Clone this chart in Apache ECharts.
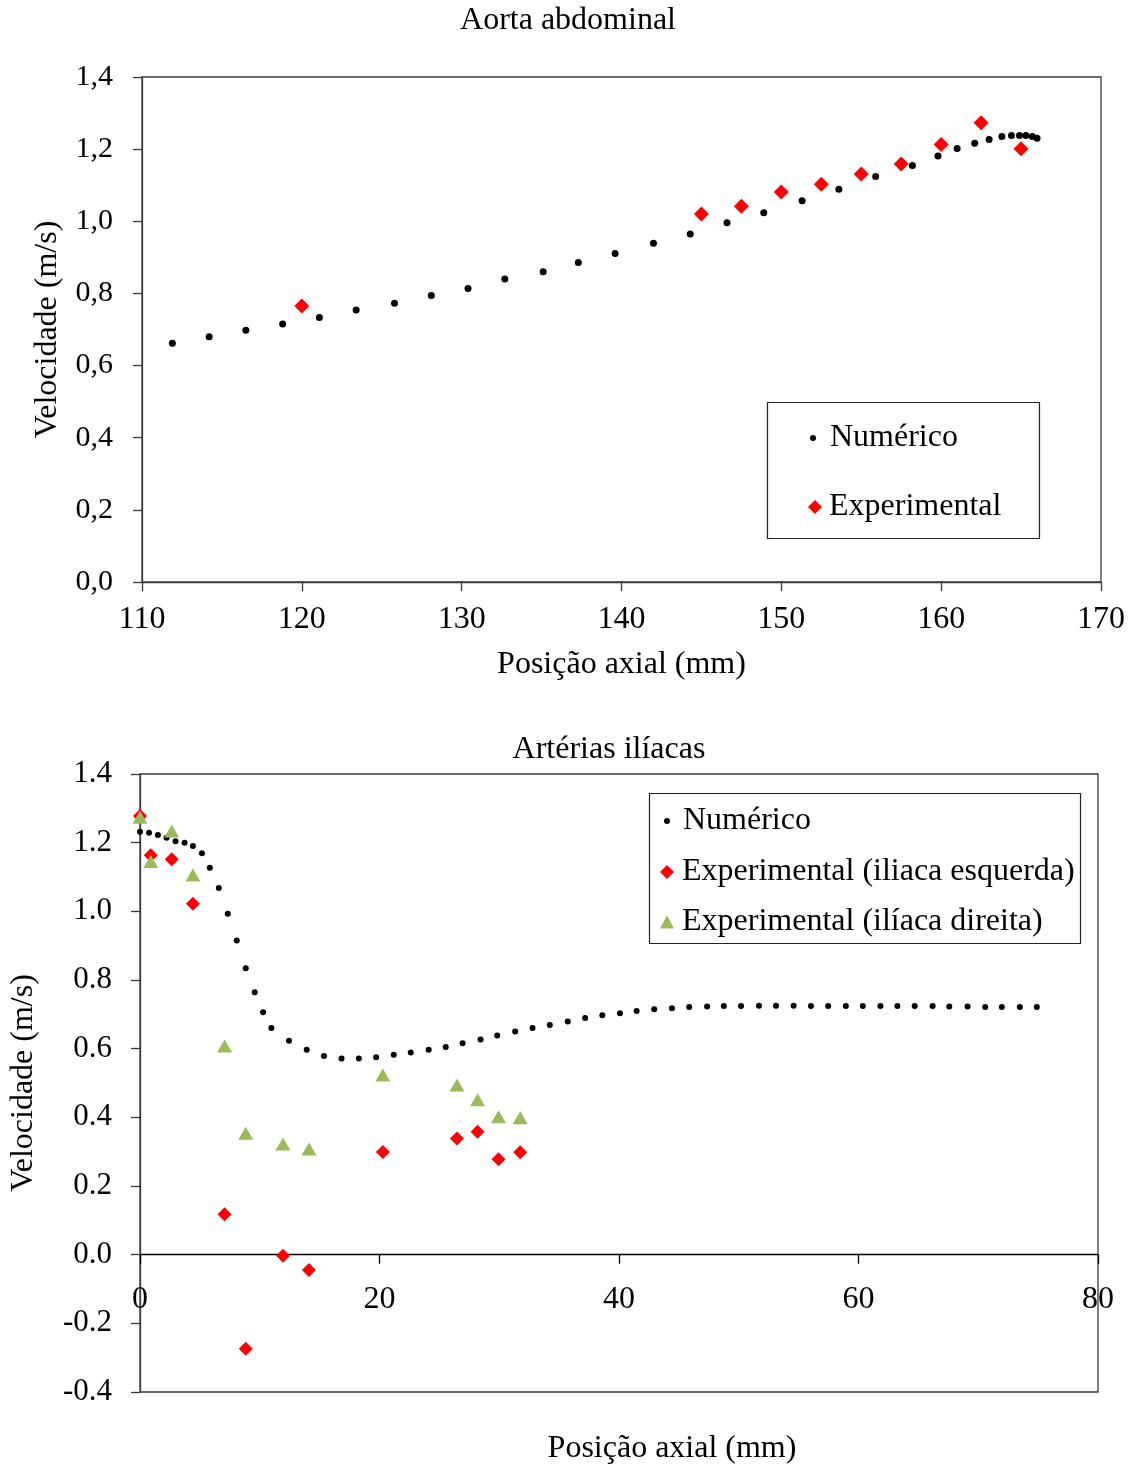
<!DOCTYPE html>
<html>
<head>
<meta charset="utf-8">
<script src="https://cdn.jsdelivr.net/npm/echarts@6/dist/echarts.min.js"></script>
<style>
  html, body { margin: 0; padding: 0; background: #fff; }
  #chart { width: 1134px; height: 1465px; }
</style>
</head>
<body>
<div id="chart"></div>
<script>
// Aorta abdominal: numerical solution (axial position in mm, velocity in m/s)
const aortaNumX = [111.9, 114.2, 116.5, 118.8, 121.1, 123.4, 125.8, 128.1, 130.4, 132.7, 135.1, 137.3,
  139.6, 142.0, 144.3, 146.6, 148.9, 151.3, 153.6, 155.9, 158.2, 159.8, 161.0, 162.1, 163.0, 163.8,
  164.4, 164.9, 165.3, 165.7, 166.0];
const aortaNumV = [0.662, 0.680, 0.698, 0.715, 0.733, 0.754, 0.773, 0.794, 0.814, 0.840, 0.860, 0.886,
  0.911, 0.939, 0.965, 0.996, 1.024, 1.057, 1.089, 1.124, 1.155, 1.181, 1.202, 1.216, 1.227, 1.235,
  1.238, 1.238, 1.238, 1.235, 1.230];
// Aorta abdominal: measurements
const aortaExpX = [120, 145, 147.5, 150, 152.5, 155, 157.5, 160, 162.5, 165];
const aortaExpV = [0.765, 1.020, 1.042, 1.081, 1.103, 1.131, 1.159, 1.213, 1.273, 1.201];

// Iliac arteries: numerical solution
const iliacNumX = [0.0, 0.75, 1.5, 2.22, 2.97, 3.72, 4.42, 5.17, 5.83, 6.58, 7.33, 8.08, 8.83, 9.58,
  10.28, 10.97, 12.44, 13.92, 15.36, 16.83, 18.28, 19.72, 21.19, 22.61, 24.11, 25.53, 26.94, 28.44,
  29.83, 31.33, 32.78, 34.22, 35.72, 37.17, 38.61, 40.08, 41.47, 42.94, 44.42, 45.86, 47.36, 48.75,
  50.19, 51.69, 53.11, 54.58, 56.03, 57.47, 58.94, 60.36, 61.83, 63.25, 64.69, 66.19, 67.58, 69.11,
  70.58, 71.97, 73.47, 74.89];
const iliacNumV = [1.232, 1.229, 1.222, 1.214, 1.204, 1.200, 1.190, 1.169, 1.127, 1.068, 0.993, 0.915,
  0.834, 0.764, 0.706, 0.660, 0.623, 0.597, 0.579, 0.571, 0.571, 0.575, 0.582, 0.589, 0.597, 0.605,
  0.616, 0.627, 0.638, 0.650, 0.660, 0.669, 0.679, 0.689, 0.697, 0.703, 0.710, 0.715, 0.718, 0.721,
  0.723, 0.724, 0.724, 0.725, 0.725, 0.725, 0.724, 0.724, 0.724, 0.724, 0.724, 0.724, 0.724, 0.724,
  0.723, 0.723, 0.721, 0.721, 0.721, 0.721];
// Iliac arteries: measurements (same stations for both sides)
const iliacExpX = [0, 0.9, 2.65, 4.42, 7.06, 8.83, 11.94, 14.11, 20.28, 26.47, 28.19, 29.94, 31.75];
const iliacLeftV = [1.278, 1.163, 1.152, 1.022, 0.118, -0.274, -0.003, -0.045, 0.299, 0.338, 0.358, 0.278, 0.298];
const iliacRightV = [1.274, 1.145, 1.234, 1.106, 0.608, 0.354, 0.322, 0.308, 0.523, 0.494, 0.451, 0.402, 0.399];

// Axis ranges [min, max, step]
const aortaXRange = [110, 170, 10];
const aortaYRange = [0, 1.4, 0.2];
const iliacXRange = [0, 80, 20];
const iliacYRange = [-0.4, 1.4, 0.2];

const zip = (xs, ys) => xs.map((x, i) => [x, ys[i]]);

const FONT = 'Liberation Serif, Times New Roman, serif';
const AXIS_GRAY = '#3a3a3a';
const RED = '#ff0000';
const GREEN = '#9bbb59';

// Lower grid geometry; its x axis is lifted to the zero line of the velocity scale
const iliacGrid = { left: 140, top: 774, width: 958, height: 618 };
const iliacZeroLift = iliacGrid.height * (0 - iliacYRange[0]) / (iliacYRange[1] - iliacYRange[0]);

const txt = (size) => ({ color: '#000', fontFamily: FONT, fontSize: size });

function yAxisCfg(range, gridIndex, fmt, labelMargin, nameGap, labelSize) {
  return {
    type: 'value', gridIndex,
    min: range[0], max: range[1], interval: range[2],
    name: 'Velocidade (m/s)', nameLocation: 'middle', nameRotate: 90, nameGap,
    nameTextStyle: txt(32),
    axisLine: { show: true, lineStyle: { color: AXIS_GRAY, width: 1.3 } },
    axisTick: { show: true, inside: false, length: 9, lineStyle: { color: AXIS_GRAY, width: 1.3 } },
    axisLabel: Object.assign({ margin: labelMargin, formatter: fmt, showMinLabel: true, showMaxLabel: true }, txt(labelSize)),
    splitLine: { show: false }
  };
}

function legendItem(name, icon, left, top, h, pad) {
  return {
    data: [{ name, icon }], left, top, padding: 0, itemWidth: 14, itemHeight: h,
    textStyle: Object.assign({ lineHeight: 36, padding: [0, 0, 0, pad] }, txt(32)),
    z: 6, selectedMode: false
  };
}

const option = {
  backgroundColor: '#fff',
  animation: false,
  grid: [
    { left: 142, top: 77, width: 959, height: 505, show: true, borderColor: AXIS_GRAY, borderWidth: 1.3, backgroundColor: 'transparent' },
    Object.assign({ show: true, borderColor: AXIS_GRAY, borderWidth: 1.3, backgroundColor: 'transparent' }, iliacGrid)
  ],
  xAxis: [
    {
      type: 'value', gridIndex: 0,
      min: aortaXRange[0], max: aortaXRange[1], interval: aortaXRange[2],
      name: 'Posição axial (mm)', nameLocation: 'middle', nameGap: 67,
      nameTextStyle: txt(32),
      axisLine: { show: true, onZero: false, lineStyle: { color: AXIS_GRAY, width: 1.3 } },
      axisTick: { show: true, length: 9, lineStyle: { color: AXIS_GRAY, width: 1.3 } },
      axisLabel: Object.assign({ margin: 22, showMinLabel: true, showMaxLabel: true }, txt(32)),
      splitLine: { show: false }
    },
    {
      type: 'value', gridIndex: 1, position: 'bottom', offset: -iliacZeroLift,
      min: iliacXRange[0], max: iliacXRange[1], interval: iliacXRange[2],
      axisLine: { show: true, onZero: false, lineStyle: { color: '#000', width: 1.3 } },
      axisTick: { show: true, length: 9, lineStyle: { color: '#000', width: 1.3 } },
      axisLabel: Object.assign({ margin: 29, showMinLabel: true, showMaxLabel: true }, txt(32)),
      splitLine: { show: false }
    }
  ],
  yAxis: [
    yAxisCfg(aortaYRange, 0, v => v.toFixed(1).replace('.', ','), 29, 78, 30),
    yAxisCfg(iliacYRange, 1, v => v.toFixed(1), 28, 100, 31)
  ],
  legend: [
    legendItem('Numérico', 'circle', 810, 420, 6, 5),
    legendItem('Experimental', 'diamond', 808, 489, 14, 2),
    legendItem('Numérico', 'circle', 664, 803, 6, 4),
    legendItem('Experimental (iliaca esquerda)', 'diamond', 660, 854, 14, 3),
    legendItem('Experimental (ilíaca direita)', 'triangle', 660, 904, 13, 3)
  ],
  graphic: [
    { type: 'text', x: 568, y: 21, z: 10,
      style: { text: 'Aorta abdominal', font: '32px ' + FONT, fill: '#000', textAlign: 'center', textVerticalAlign: 'middle' } },
    { type: 'text', x: 609, y: 750, z: 10,
      style: { text: 'Artérias ilíacas', font: '32px ' + FONT, fill: '#000', textAlign: 'center', textVerticalAlign: 'middle' } },
    { type: 'text', x: 672, y: 1449, z: 10,
      style: { text: 'Posição axial (mm)', font: '32px ' + FONT, fill: '#000', textAlign: 'center', textVerticalAlign: 'middle' } },
    { type: 'rect', z: 3, shape: { x: 767.5, y: 402.5, width: 272, height: 136 },
      style: { fill: '#fff', stroke: '#222', lineWidth: 1.2 } },
    { type: 'rect', z: 3, shape: { x: 649.5, y: 793.5, width: 431, height: 150 },
      style: { fill: '#fff', stroke: '#222', lineWidth: 1.2 } }
  ],
  series: [
    { name: 'Numérico', type: 'scatter', xAxisIndex: 0, yAxisIndex: 0, data: zip(aortaNumX, aortaNumV),
      symbol: 'circle', symbolSize: 7, itemStyle: { color: '#000', opacity: 1 } },
    { name: 'Experimental', type: 'scatter', xAxisIndex: 0, yAxisIndex: 0, data: zip(aortaExpX, aortaExpV),
      symbol: 'diamond', symbolSize: 15, itemStyle: { color: RED, opacity: 1 } },
    { name: 'Numérico', type: 'scatter', xAxisIndex: 1, yAxisIndex: 1, data: zip(iliacNumX, iliacNumV),
      symbol: 'circle', symbolSize: 6, itemStyle: { color: '#000', opacity: 1 } },
    { name: 'Experimental (iliaca esquerda)', type: 'scatter', xAxisIndex: 1, yAxisIndex: 1, data: zip(iliacExpX, iliacLeftV),
      symbol: 'diamond', symbolSize: 14, itemStyle: { color: RED, opacity: 1 } },
    { name: 'Experimental (ilíaca direita)', type: 'scatter', xAxisIndex: 1, yAxisIndex: 1, data: zip(iliacExpX, iliacRightV),
      symbol: 'triangle', symbolSize: [15, 13], itemStyle: { color: GREEN, opacity: 1 } }
  ]
};

const chart = echarts.init(document.getElementById('chart'), null, { renderer: 'canvas' });
chart.setOption(option);
</script>
</body>
</html>
